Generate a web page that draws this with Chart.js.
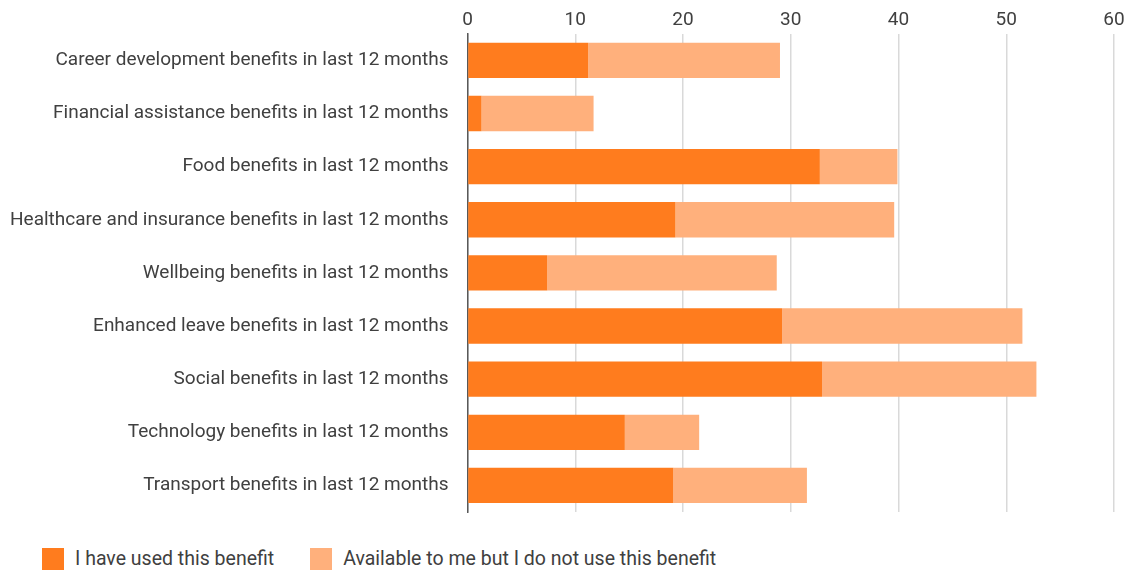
<!DOCTYPE html>
<html>
<head>
<meta charset="utf-8">
<script src="https://cdn.jsdelivr.net/npm/chart.js@4/dist/chart.umd.min.js"></script>
<style>
  html, body { margin: 0; padding: 0; background: #fff; }
  #wrap { position: relative; width: 1135px; height: 528px; }
  #legend { position: absolute; left: 42px; top: 548px; display: flex; font: 19.5px Roboto, sans-serif; color: #404040; line-height: 22px; }
  .item { display: flex; align-items: center; margin-right: 36px; }
  .box { width: 22px; height: 22px; margin-right: 11px; }
</style>
</head>
<body>
<div id="wrap"><canvas id="chart"></canvas></div>
<div id="legend"></div>
<script>
// ===== データ =====
const categories = [
  "Career development benefits in last 12 months",
  "Financial assistance benefits in last 12 months",
  "Food benefits in last 12 months",
  "Healthcare and insurance benefits in last 12 months",
  "Wellbeing benefits in last 12 months",
  "Enhanced leave benefits in last 12 months",
  "Social benefits in last 12 months",
  "Technology benefits in last 12 months",
  "Transport benefits in last 12 months"
];
const usedValues = [11.2, 1.3, 32.7, 19.3, 7.4, 29.2, 32.9, 14.6, 19.1];
const availableValues = [17.8, 10.4, 7.2, 20.3, 21.3, 22.3, 19.9, 6.9, 12.4];
const seriesNames = ["I have used this benefit", "Available to me but I do not use this benefit"];
const seriesColors = ["#ff7c1e", "#ffb07c"];
const xTicks = [0, 10, 20, 30, 40, 50, 60];

const textColor = "#404040";
const font = { family: "Roboto, sans-serif", size: 19 };

// ===== グラフ =====
const chart = new Chart(document.getElementById("chart"), {
  type: "bar",
  data: {
    labels: categories,
    datasets: [
      { label: seriesNames[0], data: usedValues, backgroundColor: seriesColors[0] },
      { label: seriesNames[1], data: availableValues, backgroundColor: seriesColors[1] }
    ]
  },
  options: {
    indexAxis: "y",
    responsive: true,
    maintainAspectRatio: false,
    animation: false,
    layout: { padding: { left: 10, top: 7, right: 21, bottom: 16 } },
    datasets: { bar: { categoryPercentage: 1, barPercentage: 0.665 } },
    plugins: { legend: { display: false }, tooltip: { enabled: false } },
    scales: {
      x: {
        position: "top",
        stacked: true,
        min: 0,
        max: 60,
        afterBuildTicks: (axis) => { axis.ticks = xTicks.map(v => ({ value: v })); },
        grid: { color: "#d9d9d9", lineWidth: 1.5, drawTicks: false },
        border: { display: false },
        ticks: { color: textColor, font, padding: 2 }
      },
      y: {
        stacked: true,
        // 目盛り線は透明にしてラベルと軸の間隔だけ確保する
        grid: { display: false, drawTicks: true, tickLength: 19, tickColor: "rgba(0,0,0,0)" },
        border: { display: true, color: "#595959", width: 1.5 },
        ticks: { color: textColor, font, padding: 0 }
      }
    }
  }
});

// ===== 凡例 =====
document.getElementById("legend").innerHTML = chart.data.datasets
  .map(d => `<div class="item"><div class="box" style="background:${d.backgroundColor}"></div>${d.label}</div>`)
  .join("");
</script>
</body>
</html>
